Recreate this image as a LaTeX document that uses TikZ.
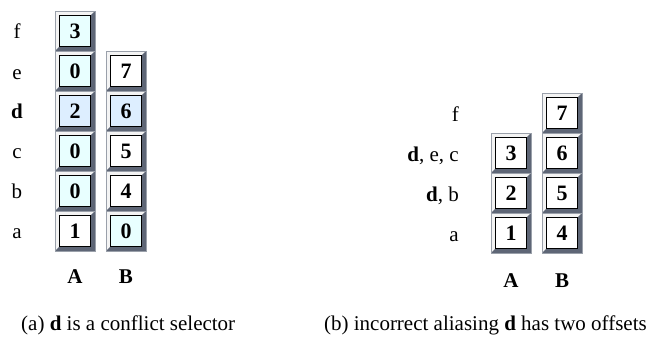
\documentclass[tikz,border=0pt]{standalone}
\usepackage{fontspec}
\setmainfont{Liberation Serif}
\definecolor{lcyan}{HTML}{E8FFFF}
\definecolor{lblue}{HTML}{DDEEFF}
\definecolor{bevdark}{HTML}{5E6676}
\definecolor{bevmid}{HTML}{9AA0AA}
\definecolor{bevlight}{HTML}{F4F4F4}
\begin{document}
\begin{tikzpicture}[x=1pt,y=-1pt,
  lbl/.style={font=\fontsize{21}{21}\selectfont, inner sep=0pt},
  collbl/.style={font=\fontsize{21}{21}\selectfont\bfseries, inner sep=0pt},
  captxt/.style={font=\fontsize{21}{21}\selectfont, inner sep=0pt},
  digit/.style={font=\fontsize{22}{22}\selectfont\bfseries, inner sep=0pt}]
\useasboundingbox (0,0) rectangle (651,338);
% cell macro: #1 name, #2 x-left, #3 y-top, #4 fill, #5 digit
\newcommand\mycell[5]{%
  \fill[bevmid] (#2,#3) rectangle ++(40,40);
  \fill[bevlight] (#2,#3) -- ++(40,0) -- ++(-4,4) -- ++(-32,0) -- ++(0,32) -- ++(-4,4) -- cycle;
  \fill[bevdark] (#2+40,#3+40) -- ++(-40,0) -- ++(4,-4) -- ++(32,0) -- ++(0,-32) -- ++(4,-4) -- cycle;
  \draw[bevmid, line width=0.8pt] (#2,#3) rectangle ++(40,40);
  \node[digit, draw=black, line width=1.2pt, fill=#4, minimum width=31pt, minimum height=31pt, inner sep=0pt] (#1) at (#2+20,#3+20) {#5};
}
% ---------- panel (a)
\mycell{af}{55}{11}{lcyan}{3}
\mycell{ae}{55}{51}{lcyan}{0}
\mycell{ad}{55}{91}{lblue}{2}
\mycell{ac}{55}{131}{lcyan}{0}
\mycell{ab}{55}{171}{lcyan}{0}
\mycell{aa}{55}{211}{white}{1}
\mycell{be}{106}{51}{white}{7}
\mycell{bd}{106}{91}{lblue}{6}
\mycell{bc}{106}{131}{white}{5}
\mycell{bb}{106}{171}{white}{4}
\mycell{ba}{106}{211}{lcyan}{0}
\node[lbl, anchor=base] (lf) at (17,38) {f};
\node[lbl, anchor=base] (le) at (17,79) {e};
\node[lbl, anchor=base] (ld) at (17,118) {\textbf{d}};
\node[lbl, anchor=base] (lc) at (17,158) {c};
\node[lbl, anchor=base] (lb) at (17,198) {b};
\node[lbl, anchor=base] (la) at (17,238) {a};
\node[collbl, anchor=base] (cA) at (75,283) {A};
\node[collbl, anchor=base] (cB) at (126,283) {B};
% ---------- panel (b)
\mycell{rA3}{491}{133}{white}{3}
\mycell{rA2}{491}{173}{white}{2}
\mycell{rA1}{491}{213}{white}{1}
\mycell{rB7}{542}{93}{white}{7}
\mycell{rB6}{542}{133}{white}{6}
\mycell{rB5}{542}{173}{white}{5}
\mycell{rB4}{542}{213}{white}{4}
\node[lbl, anchor=base east] (rf) at (459,121) {f};
\node[lbl, anchor=base east] (rdec) at (459,161) {\textbf{d}, e, c};
\node[lbl, anchor=base east] (rdb) at (459,201) {\textbf{d}, b};
\node[lbl, anchor=base east] (ra) at (459,241) {a};
\node[collbl, anchor=base] (rcA) at (511,287) {A};
\node[collbl, anchor=base] (rcB) at (562,287) {B};
% ---------- captions
\node[captxt, anchor=base west] (capa) at (21,330) {(a) \textbf{d} is a conflict selector};
\node[captxt, anchor=base east] (capb) at (647,330) {(b) incorrect aliasing \textbf{d} has two offsets};
\end{tikzpicture}
\end{document}
